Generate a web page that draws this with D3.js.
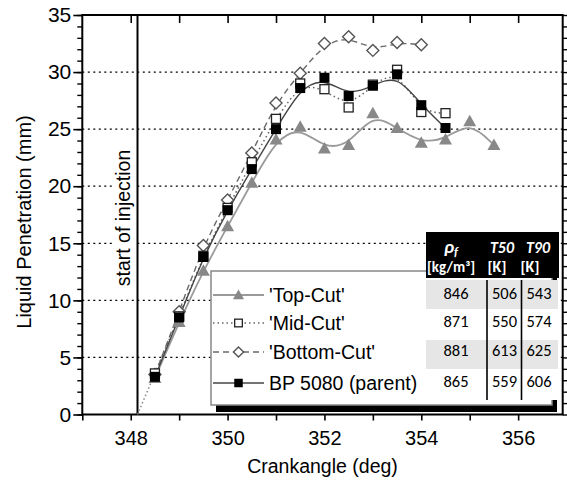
<!DOCTYPE html>
<html><head><meta charset="utf-8">
<script src="https://cdn.jsdelivr.net/npm/d3@7"></script>
<style>
body{margin:0;background:#fff;}
svg{display:block;font-family:"Liberation Sans",Arial,sans-serif;}
</style></head>
<body><svg id="c" width="567" height="485"></svg>
<script>
const crank = [348.5,349,349.5,350,350.5,351,351.5,352,352.5,353,353.5,354,354.5,355,355.5];
const topCut = [3.2,8.1,12.6,16.5,20.3,24.1,25.2,23.3,23.6,26.4,25.1,23.8,24.1,25.7,23.6];
const midCut = [3.6,8.6,13.9,18.1,22.1,25.9,29.0,28.5,26.9,28.9,30.2,26.5,26.4];
const bottomCut = [3.5,9.0,14.8,18.8,22.9,27.3,29.9,32.5,33.1,31.9,32.6,32.4];
const parent = [3.3,8.5,13.8,17.9,21.5,25.0,28.6,29.5,27.9,28.8,29.8,27.1,25.1];
const injectionStart = 348.14;
const xTickLabels = [348,350,352,354,356];
const yTickLabels = [0,5,10,15,20,25,30,35];
const gridValues = [5,10,15,20,25,30];
const legendNames = ["'Top-Cut'","'Mid-Cut'","'Bottom-Cut'","BP 5080 (parent)"];
const rhoF = ["846","871","881","865"];
const t50 = ["506","550","613","559"];
const t90 = ["543","574","625","606"];

const svg = d3.select("#c");
const L=82.3, R=562.7, T=15, B=414.5;
const x = d3.scaleLinear().domain([347,356.92]).range([L,R]);
const y = d3.scaleLinear().domain([0,35]).range([B,T]);

// grid
svg.append("g").selectAll("line").data(gridValues).join("line")
  .attr("x1",L).attr("x2",R).attr("y1",d=>y(d)).attr("y2",d=>y(d))
  .attr("stroke","#000").attr("stroke-width",1.2).attr("stroke-dasharray","2,3.5");

// start of injection label with white background
svg.append("rect").attr("x",112).attr("y",144).attr("width",22).attr("height",148).attr("fill","#fff");
svg.append("text").attr("transform",`translate(129.5,${218}) rotate(-90)`)
  .attr("text-anchor","middle").attr("font-size",19.5).text("start of injection");
svg.append("line").attr("x1",x(injectionStart)).attr("x2",x(injectionStart))
  .attr("y1",T).attr("y2",B).attr("stroke","#000").attr("stroke-width",2);

// axes
const ticksDeg = d3.range(347,357,1);
const axB = d3.axisBottom(x).tickValues(ticksDeg).tickSize(6).tickFormat(d=>xTickLabels.includes(d)?d:"");
svg.append("g").attr("transform",`translate(0,${B})`).call(axB)
  .call(g=>{g.select(".domain").remove();g.selectAll("line").attr("stroke-width",1.6);
    g.selectAll("text").attr("font-size",20).attr("dy","1.05em").attr("font-family","Liberation Sans, Arial");});
const axT = d3.axisTop(x).tickValues(ticksDeg.slice(1)).tickSize(-8).tickFormat("");
svg.append("g").attr("transform",`translate(0,${T})`).call(axT)
  .call(g=>{g.select(".domain").remove();g.selectAll("line").attr("stroke-width",1.6);});
const axLminor = d3.axisLeft(y).tickValues(d3.range(0,36,1)).tickSize(5).tickFormat("");
svg.append("g").attr("transform",`translate(${L},0)`).call(axLminor)
  .call(g=>{g.select(".domain").remove();g.selectAll("line").attr("stroke-width",1.4);});
const axL = d3.axisLeft(y).tickValues(yTickLabels).tickSize(9).tickPadding(2);
svg.append("g").attr("transform",`translate(${L},0)`).call(axL)
  .call(g=>{g.select(".domain").remove();g.selectAll("line").attr("stroke-width",1.6);
    g.selectAll("text").attr("font-size",21).attr("font-family","Liberation Sans, Arial");});
const axR = d3.axisRight(y).tickValues(d3.range(0,36,1)).tickSize(5).tickFormat("");
svg.append("g").attr("transform",`translate(${R},0)`).call(axR)
  .call(g=>{g.select(".domain").remove();g.selectAll("line").attr("stroke-width",1.4);});

// frame
svg.append("rect").attr("x",L).attr("y",T).attr("width",R-L).attr("height",B-T)
  .attr("fill","none").attr("stroke","#000").attr("stroke-width",2);

// axis titles
svg.append("text").attr("x",(L+R)/2).attr("y",473).attr("text-anchor","middle").attr("font-size",19.5).text("Crankangle (deg)");
svg.append("text").attr("transform","translate(31,222) rotate(-90)").attr("text-anchor","middle").attr("font-size",20).text("Liquid Penetration (mm)");

// extrapolation line
svg.append("line").attr("x1",x(injectionStart)).attr("y1",y(0)).attr("x2",x(crank[0])).attr("y2",y(midCut[0]))
  .attr("stroke","#888").attr("stroke-width",1.5).attr("stroke-dasharray","1.5,2.5");

const series = [
  {name:"top",vals:topCut,line:"#9a9a9a",dash:null,w:1.8,marker:"tri"},
  {name:"bottom",vals:bottomCut,line:"#6a6a6a",dash:"6,4",w:1.4,marker:"dia"},
  {name:"mid",vals:midCut,line:"#666",dash:"1.5,3",w:1.5,marker:"sqo"},
  {name:"parent",vals:parent,line:"#444",dash:null,w:1.4,marker:"sqf"}
];
const lineGen = d3.line().x(d=>x(d[0])).y(d=>y(d[1])).curve(d3.curveBasis);
function drawMarker(g,type,cx,cy,scale){
  const s=scale||1;
  if(type==="tri") g.append("path").attr("d",`M${cx},${cy-6.5*s}L${cx+6.5*s},${cy+5*s}L${cx-6.5*s},${cy+5*s}Z`).attr("fill","#888");
  else if(type==="dia") g.append("path").attr("d",`M${cx},${cy-6*s}L${cx+6*s},${cy}L${cx},${cy+6*s}L${cx-6*s},${cy}Z`).attr("fill","#fff").attr("stroke","#555").attr("stroke-width",1.4);
  else if(type==="sqo") g.append("rect").attr("x",cx-4.5*s).attr("y",cy-4.5*s).attr("width",9*s).attr("height",9*s).attr("fill","#fff").attr("stroke","#222").attr("stroke-width",1.3);
  else g.append("rect").attr("x",cx-5*s).attr("y",cy-5*s).attr("width",10*s).attr("height",10*s).attr("fill","#000");
}
series.forEach(s=>{
  const pts = s.vals.map((v,i)=>[crank[i],v]);
  const p = svg.append("path").attr("d",lineGen(pts)).attr("fill","none").attr("stroke",s.line).attr("stroke-width",s.w);
  if(s.dash) p.attr("stroke-dasharray",s.dash);
});
series.forEach(s=>{
  const g = svg.append("g");
  s.vals.forEach((v,i)=>drawMarker(g,s.marker,x(crank[i]),y(v)));
});

// legend
const lg = svg.append("g");
lg.append("rect").attr("x",216).attr("y",277).attr("width",341).attr("height",135).attr("fill","#000");
lg.append("rect").attr("x",211).attr("y",271).attr("width",341).attr("height",134).attr("fill","#fff").attr("stroke","#888").attr("stroke-width",1.5);
const legendStyles = [series[0],series[2],series[1],series[3]];
const rowY = [295,323,352,383];
legendStyles.forEach((s,i)=>{
  const ly=rowY[i];
  const ln = lg.append("line").attr("x1",213).attr("x2",264).attr("y1",ly).attr("y2",ly).attr("stroke",s.line).attr("stroke-width",s.w);
  if(s.dash) ln.attr("stroke-dasharray",s.dash);
  drawMarker(lg,s.marker,238.5,ly,0.85);
  lg.append("text").attr("x",269).attr("y",ly+7).attr("font-size",19.5).text(legendNames[i]);
});
// table
const tb = svg.append("g").attr("font-family","Carlito, Calibri, 'Open Sans', sans-serif");
tb.append("rect").attr("x",426).attr("y",280).attr("width",132).attr("height",120).attr("fill","#fff");
[0,2].forEach(i=>tb.append("rect").attr("x",426).attr("y",[280,310,340,370][i]).attr("width",132).attr("height",29).attr("fill","#e6e6e6"));
tb.append("rect").attr("x",426).attr("y",232).attr("width",133).attr("height",46).attr("fill","#000");
tb.append("line").attr("x1",487).attr("x2",487).attr("y1",280).attr("y2",400).attr("stroke","#000").attr("stroke-width",1.6);
tb.append("line").attr("x1",521.5).attr("x2",521.5).attr("y1",280).attr("y2",400).attr("stroke","#000").attr("stroke-width",1.6);
const hdr = tb.append("g").attr("fill","#fff").attr("font-weight","bold").attr("font-size",16);
const rho = hdr.append("text").attr("x",451).attr("y",253).attr("text-anchor","middle").attr("font-style","italic");
rho.append("tspan").attr("font-size",19).text("ρ");
rho.append("tspan").attr("dy",3).attr("font-size",12.5).text("f");
hdr.append("text").attr("x",502).attr("y",253).attr("text-anchor","middle").attr("font-style","italic").text("T50");
hdr.append("text").attr("x",538).attr("y",253).attr("text-anchor","middle").attr("font-style","italic").text("T90");
hdr.append("text").attr("x",451).attr("y",272).attr("text-anchor","middle").attr("font-size",15).text("[kg/m³]");
hdr.append("text").attr("x",497).attr("y",272).attr("text-anchor","middle").text("[K]");
hdr.append("text").attr("x",530).attr("y",272).attr("text-anchor","middle").text("[K]");
rowY.forEach((ly,i)=>{
  tb.append("text").attr("x",456).attr("y",ly+3.5).attr("text-anchor","middle").attr("font-size",16.5).text(rhoF[i]);
  tb.append("text").attr("x",504.5).attr("y",ly+3.5).attr("text-anchor","middle").attr("font-size",16.5).text(t50[i]);
  tb.append("text").attr("x",539).attr("y",ly+3.5).attr("text-anchor","middle").attr("font-size",16.5).text(t90[i]);
});
</script></body></html>
